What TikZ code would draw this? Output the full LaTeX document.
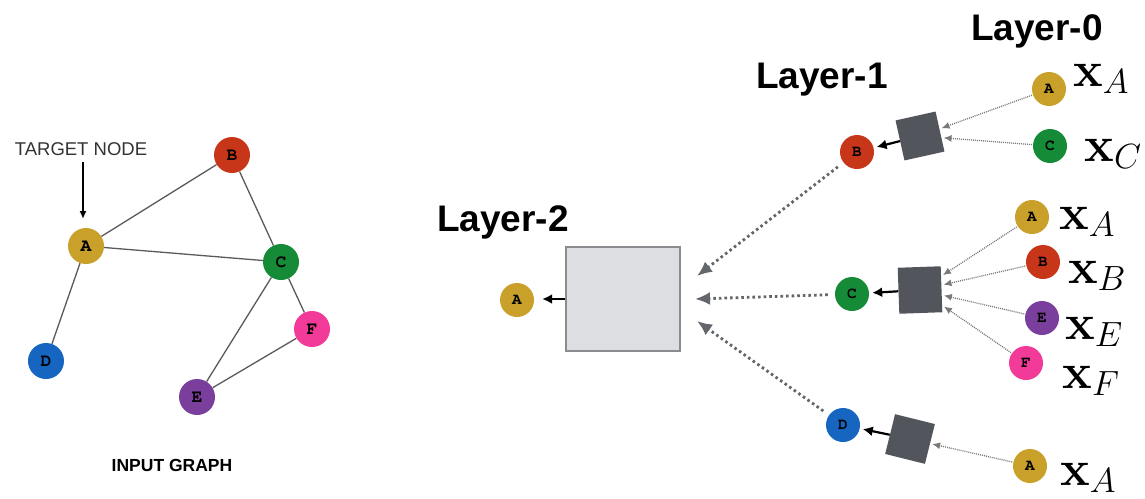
\RequirePackage{fix-cm}
\documentclass[tikz,border=0pt]{standalone}
\usepackage[no-math]{fontspec}
\usetikzlibrary{arrows.meta}
\newfontfamily\sansfont{Liberation Sans}
% slab-serif typewriter letters inside the vertices
\newcommand\lettfont{\usefont{T1}{pcr}{b}{n}}

\definecolor{nA}{HTML}{C9A02A}
\definecolor{nB}{HTML}{C8361A}
\definecolor{nC}{HTML}{158A37}
\definecolor{nD}{HTML}{1665C0}
\definecolor{nE}{HTML}{7A3E9D}
\definecolor{nF}{HTML}{F23A98}
\definecolor{edgegray}{HTML}{5A5A5A}
\definecolor{aggdark}{HTML}{52565C}
\definecolor{aggfill}{HTML}{DDDEE1}
\definecolor{aggline}{HTML}{8A8C90}
\definecolor{msggray}{HTML}{7A7A7A}
\definecolor{bigdot}{HTML}{63666B}

\begin{document}
\begin{tikzpicture}[x=1pt,y=-1pt,
  gnode/.style={circle, minimum size=36pt, inner sep=0pt, text=black,
    font=\lettfont\fontsize{18}{18}\selectfont},
  snode/.style={circle, minimum size=34pt, inner sep=0pt, text=black,
    font=\lettfont\fontsize{16}{16}\selectfont},
  gedge/.style={draw=edgegray, line width=1.3pt},
  aggbox/.style={fill=aggdark, inner sep=0pt, minimum size=41pt},
  msg/.style={draw=msggray, line width=1.3pt, dash pattern=on 1pt off 1pt,
    -{Latex[length=8pt,width=7pt]}, shorten <=1pt, shorten >=2pt},
  bigmsg/.style={draw=bigdot, line width=2.8pt, dash pattern=on 2.6pt off 3pt,
    -{Latex[length=15pt,width=13pt]}, shorten <=7pt},
  outarr/.style={draw=black, line width=2.2pt, -{Latex[length=10pt,width=10pt]}},
  layer/.style={inner sep=0pt, font=\sansfont\bfseries\fontsize{37}{37}\selectfont},
  feat/.style={inner sep=0pt, font=\fontsize{50}{50}\selectfont}
]
\useasboundingbox (0,0) rectangle (1145,498);

% ---- input graph ----
\node[gnode, fill=nA] (gA) at (86,246) {A};
\node[gnode, fill=nB] (gB) at (232,155) {B};
\node[gnode, fill=nC] (gC) at (281,262) {C};
\node[gnode, fill=nD] (gD) at (46,361) {D};
\node[gnode, fill=nE] (gE) at (197,397) {E};
\node[gnode, fill=nF] (gF) at (312,329) {F};
\draw[gedge] (gA) -- (gB);
\draw[gedge] (gA) -- (gC);
\draw[gedge] (gB) -- (gC);
\draw[gedge] (gA) -- (gD);
\draw[gedge] (gC) -- (gE);
\draw[gedge] (gC) -- (gF);
\draw[gedge] (gE) -- (gF);

\node[inner sep=0pt, text=black!80, font=\sansfont\fontsize{18.5}{18.5}\selectfont] (tgt) at (81,149) {TARGET NODE};
\coordinate (tgtend) at (83,219);
\draw[line width=1.6pt, -{Latex[length=8pt,width=7pt]}] (tgt.south -| tgtend) ++(0,6) -- (tgtend);
\node[inner sep=0pt, font=\sansfont\bfseries\fontsize{17.5}{17.5}\selectfont] (cap) at (172,465) {INPUT GRAPH};

% ---- layer labels ----
\node[layer] (L2) at (503,222) {Layer-2};
\node[layer] (L1) at (822,80) {Layer-1};
\node[layer] (L0) at (1037,31) {Layer-0};

% ---- layer 2 ----
\node[draw=aggline, fill=aggfill, line width=1.3pt, minimum width=114pt, minimum height=104pt, inner sep=0pt] (agg2) at (623,299) {};
\node[snode, fill=nA] (oA) at (517,300) {A};
\draw[outarr, shorten >=8pt] (agg2.west) -- (oA.east |- agg2.west);

% ---- layer 1 ----
\node[snode, fill=nB] (mB) at (857,152) {B};
\node[snode, fill=nC] (mC) at (852,294) {C};
\node[snode, fill=nD] (mD) at (843,425) {D};

\node[aggbox, rotate=12.5] (sB) at (920,136) {};
\node[aggbox, minimum width=43pt, minimum height=46pt, rotate=2] (sC) at (920,290) {};
\node[aggbox, rotate=-14] (sD) at (910,439) {};

\draw[outarr, shorten >=3pt] (sB) -- (mB);
\draw[outarr, shorten >=3pt] (sC) -- (mC);
\draw[outarr, shorten >=3pt] (sD) -- (mD);

\coordinate (t1) at (697,276);
\coordinate (t2) at (695,299);
\coordinate (t3) at (697,321);
\draw[bigmsg] (mB) -- (t1);
\draw[bigmsg] (mC) -- (t2);
\draw[bigmsg] (mD) -- (t3);

% ---- layer 0 ----
\node[snode, fill=nA] (a1) at (1049,89) {A};
\node[snode, fill=nC] (c1) at (1050,146) {C};
\node[feat] at (1101,79) {$\mathbf{x}_A$};
\node[feat] at (1113,154) {$\mathbf{x}_C$};
\draw[msg] (a1) -- (sB);
\draw[msg] (c1) -- (sB);

\node[snode, fill=nA] (a2) at (1032,217) {A};
\node[snode, fill=nB] (b2) at (1043,262) {B};
\node[snode, fill=nE] (e2) at (1042,318) {E};
\node[snode, fill=nF] (f2) at (1026,363) {F};
\node[feat] at (1087,222) {$\mathbf{x}_A$};
\node[feat] at (1097,276) {$\mathbf{x}_B$};
\node[feat] at (1094,332) {$\mathbf{x}_E$};
\node[feat] at (1091,381) {$\mathbf{x}_F$};
\draw[msg] (a2) -- (sC);
\draw[msg] (b2) -- (sC);
\draw[msg] (e2) -- (sC);
\draw[msg] (f2) -- (sC);

\node[snode, fill=nA] (a3) at (1030,466) {A};
\node[feat] at (1088,478) {$\mathbf{x}_A$};
\draw[msg] (a3) -- (sD);
\end{tikzpicture}
\end{document}
